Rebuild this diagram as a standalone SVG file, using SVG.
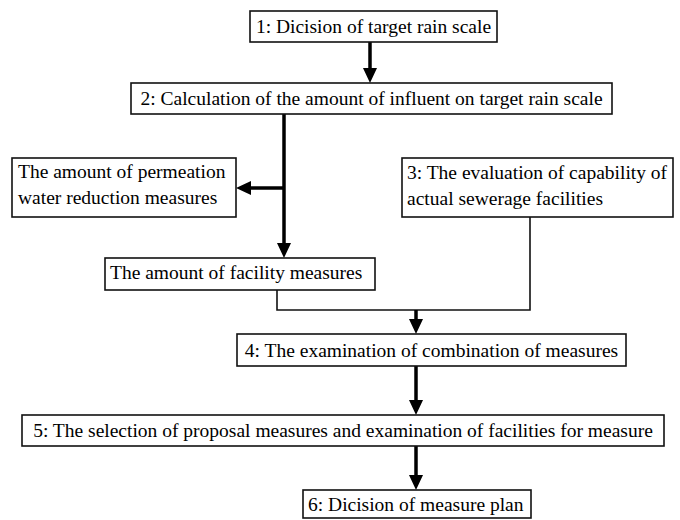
<svg xmlns="http://www.w3.org/2000/svg" width="680" height="520" viewBox="0 0 680 520">
<style>
.box{fill:#fff;stroke:#111;stroke-width:1.6}
.t{font-family:"Liberation Serif","Tinos","Times New Roman","DejaVu Serif",serif;font-size:19.5px;fill:#000}
.c{text-anchor:middle}
.thick{fill:none;stroke:#000;stroke-width:3.5}
.thin{fill:none;stroke:#111;stroke-width:1.6}
</style>
<defs>
<marker id="ah" viewBox="0 0 15 14" refX="0" refY="7" markerWidth="15" markerHeight="14" markerUnits="userSpaceOnUse" orient="auto">
<path d="M0,0 L15,7 L0,14 z" fill="#000"/>
</marker>
</defs>
<rect width="680" height="520" fill="#fff"/>
<g id="connectors">
<path class="thick" d="M370,42 V68" marker-end="url(#ah)"/>
<path class="thick" d="M284,114 V243" marker-end="url(#ah)"/>
<path class="thick" d="M284,188 H251" marker-end="url(#ah)"/>
<path class="thin" d="M277,290 V310 H530 V217"/>
<path class="thick" d="M416,310 V319" marker-end="url(#ah)"/>
<path class="thick" d="M416,366 V400" marker-end="url(#ah)"/>
<path class="thick" d="M416,446 V475" marker-end="url(#ah)"/>
</g>
<g id="n1">
<rect class="box" x="250" y="11" width="247" height="31"/>
<text class="t c" x="373.5" y="33">1: Dicision of target rain scale</text>
</g>
<g id="n2">
<rect class="box" x="131" y="83" width="481" height="31"/>
<text class="t c" x="371.5" y="105">2: Calculation of the amount of influent on target rain scale</text>
</g>
<g id="n_perm">
<rect class="box" x="12" y="158" width="224" height="59"/>
<text class="t" x="18" y="178">The amount of permeation</text>
<text class="t" x="18" y="204">water reduction measures</text>
</g>
<g id="n3">
<rect class="box" x="402" y="158" width="271" height="59"/>
<text class="t" x="407" y="179">3: The evaluation of capability of</text>
<text class="t" x="407" y="205">actual sewerage facilities</text>
</g>
<g id="n_fac">
<rect class="box" x="105" y="258" width="270" height="32"/>
<text class="t" x="110" y="279">The amount of facility measures</text>
</g>
<g id="n4">
<rect class="box" x="237" y="334" width="389" height="32"/>
<text class="t c" x="431.5" y="357">4: The examination of combination of measures</text>
</g>
<g id="n5">
<rect class="box" x="22" y="415" width="642" height="31"/>
<text class="t c" x="343" y="437">5: The selection of proposal measures and examination of facilities for measure</text>
</g>
<g id="n6">
<rect class="box" x="303" y="490" width="228" height="28"/>
<text class="t" x="308" y="511">6: Dicision of measure plan</text>
</g>
</svg>
